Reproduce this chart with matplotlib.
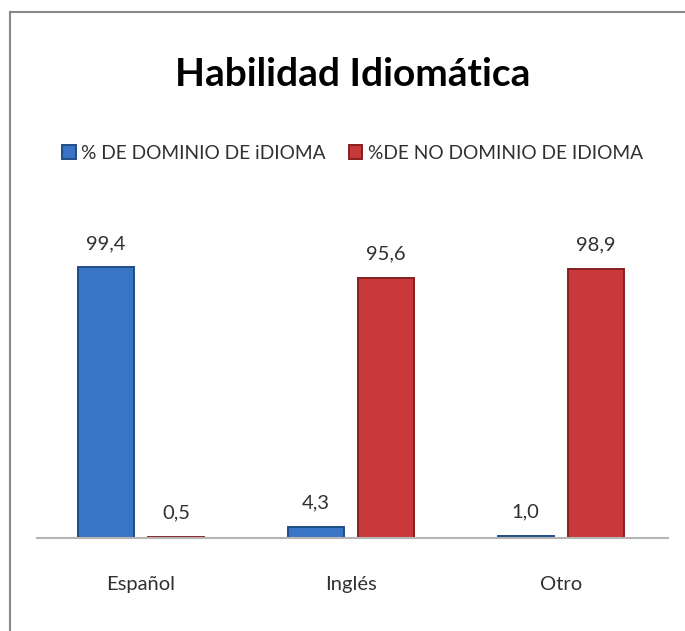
import numpy as np
import matplotlib.pyplot as plt
from matplotlib.lines import Line2D

# data
categories = ["Español", "Inglés", "Otro"]
dominio = [99.4, 4.3, 1.0]
no_dominio = [0.5, 95.6, 98.9]
series_names = ["% DE DOMINIO DE iDIOMA", "%DE NO DOMINIO DE IDIOMA"]

plt.rcParams['font.family'] = ['Lato', 'DejaVu Sans']

fig = plt.figure(figsize=(6.85, 6.31), dpi=100)
ax = fig.add_axes([0.054, 0.147, 0.921, 0.475])

x = np.arange(len(categories))
w = 0.267
off = 0.167
b1 = ax.bar(x - off, dominio, w, color='#3a74c4', edgecolor='#1f4c88', linewidth=1.4,
            label=series_names[0])
b2 = ax.bar(x + off, no_dominio, w, color='#c9383b', edgecolor='#871f21', linewidth=1.4,
            label=series_names[1])

for bars, vals in ((b1, dominio), (b2, no_dominio)):
    for r, v in zip(bars, vals):
        ax.annotate(f"{v:.1f}".replace('.', ','), (r.get_x() + r.get_width() / 2, v),
                    xytext=(0, 11), textcoords='offset points', ha='center', va='bottom',
                    fontsize=14.5, color='#303030')

ax.set_xlim(-0.495, 2.51)
ax.set_ylim(0, 110)
ax.set_yticks([])
ax.set_xticks(x)
ax.set_xticklabels(categories, fontsize=14.5, color='#303030')
ax.tick_params(axis='x', length=0, pad=27)
for s in ('top', 'right', 'left'):
    ax.spines[s].set_visible(False)
ax.spines['bottom'].set_color('#b5b5b5')
ax.spines['bottom'].set_linewidth(1.5)

fig.text(0.515, 0.882, "Habilidad Idiomática", ha='center', va='center',
         fontsize=28, fontweight='bold', color='black')

fig.legend(loc='center', bbox_to_anchor=(0.515, 0.757), ncol=2, frameon=False,
           fontsize=13.8, handlelength=0.7, handleheight=0.7, handletextpad=0.3,
           columnspacing=1.2, labelcolor='#303030')

# outer frame of the chart area
fig.add_artist(Line2D([10 / 685, 10 / 685], [0, 1 - 12 / 631], color='#8a8a8a', lw=1.5))
fig.add_artist(Line2D([10 / 685, 1], [1 - 12 / 631, 1 - 12 / 631], color='#8a8a8a', lw=1.5))

fig.savefig('out.png', dpi=100)
